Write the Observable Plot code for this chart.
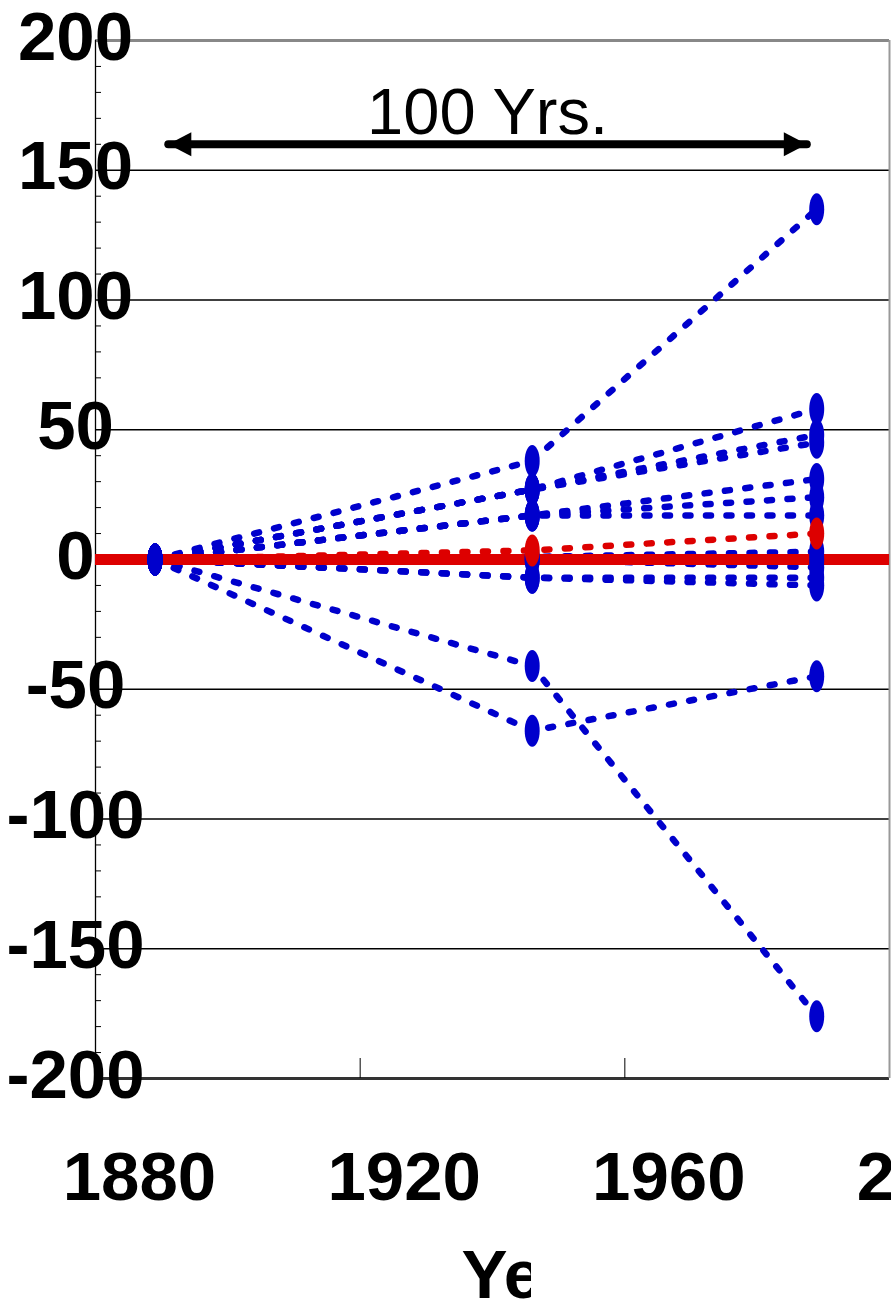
<!DOCTYPE html>
<html>
<head>
<meta charset="utf-8">
<script src="https://cdn.jsdelivr.net/npm/d3@7"></script>
<script src="https://cdn.jsdelivr.net/npm/@observablehq/plot@0.6"></script>
<style>
  html, body { margin: 0; padding: 0; background: white; overflow: hidden; }
  #chart { width: 891px; height: 1303px; overflow: hidden; }
</style>
</head>
<body>
<div id="chart"></div>
<script>
// ---- data ----
const years = [1889, 1946, 1989];
const blueSeries = [
  [0, 38, 135],
  [0, 27, 58],
  [0, 27, 48],
  [0, 27, 45],
  [0, 17, 31],
  [0, 17, 24],
  [0, 17, 17],
  [0, 1, 3],
  [0, 0, 0],
  [0, 0, -3],
  [0, -7, -7],
  [0, -7, -10],
  [0, -41, -176],
  [0, -66, -45]
];
const redSeries = [0, 3.5, 10];
const baseline = [0];
const gridValues = [-150, -100, -50, 50, 100, 150];
const yTicks = [-200, -150, -100, -50, 0, 50, 100, 150, 200];
const yMinorTicks = d3.range(-190, 200, 10).filter(v => v % 50 !== 0);
const xTicks = [1880, 1920, 1960, 2000];
const xInnerTicks = [1920, 1960];
const arrowYears = [1891, 1987.5];
const arrowLevel = 160;
const arrowText = "100 Yrs.";
const xLabel = "Year";

// ---- tables ----
const blueTable = blueSeries.flatMap((vals, s) => vals.map((v, i) => ({series: s, year: years[i], value: v, idx: i})));
const redTable = redSeries.map((v, i) => ({year: years[i], value: v, idx: i}));
const arrowTable = arrowYears.map(y => ({year: y, value: arrowLevel}));

const blue = "#0000CC", red = "#DD0000";

// ---- symbols ----
const ellipse = {draw(ctx) {
  const rx = 7.5, ry = 16, k = 0.5523;
  ctx.moveTo(rx, 0);
  ctx.bezierCurveTo(rx, k * ry, k * rx, ry, 0, ry);
  ctx.bezierCurveTo(-k * rx, ry, -rx, k * ry, -rx, 0);
  ctx.bezierCurveTo(-rx, -k * ry, -k * rx, -ry, 0, -ry);
  ctx.bezierCurveTo(k * rx, -ry, rx, -k * ry, rx, 0);
  ctx.closePath();
}};
const headLeft = {draw(ctx) { ctx.moveTo(0, 0); ctx.lineTo(23, -12); ctx.lineTo(23, 12); ctx.closePath(); }};
const headRight = {draw(ctx) { ctx.moveTo(0, 0); ctx.lineTo(-23, -12); ctx.lineTo(-23, 12); ctx.closePath(); }};

const fmt = d => String(d);
const font = "'Liberation Sans', Arial, Helvetica, sans-serif";

const plot = Plot.plot({
  width: 891,
  height: 1303,
  marginLeft: 95,
  marginRight: 2,
  marginTop: 40,
  marginBottom: 225,
  x: {domain: [1880, 2000], axis: null, label: null},
  y: {domain: [-200, 200], axis: null, label: null},
  style: {fontFamily: font, background: "white", color: "black"},
  marks: [
    Plot.ruleY(gridValues, {stroke: "black", strokeWidth: 1.3}),
    Plot.ruleY([200], {stroke: "#888", strokeWidth: 3}),
    Plot.ruleY([-200], {stroke: "#333", strokeWidth: 3}),
    Plot.ruleX([2000], {stroke: "#999", strokeWidth: 2}),
    Plot.ruleX([1880], {stroke: "black", strokeWidth: 1.3}),
    Plot.axisY({ticks: yMinorTicks, tickSize: -6, fill: "none", stroke: "black", label: null, tickFormat: fmt}),
    Plot.axisX({ticks: xInnerTicks, tickSize: -20, fill: "none", stroke: "black", label: null, tickFormat: fmt}),
    Plot.axisY({ticks: yTicks, tickSize: 0, tickPadding: 20, textAnchor: "middle", dy: -3,
      fontSize: 69, fontWeight: "bold", fill: "black", label: null, tickFormat: fmt}),
    Plot.axisX({ticks: xTicks, tickSize: 0, tickPadding: 72, dx: 44,
      fontSize: 69, fontWeight: "bold", fill: "black", label: null, tickFormat: fmt}),
    // series lines
    Plot.line(blueTable, {x: "year", y: "value", z: "series", stroke: blue, strokeWidth: 6.5,
      strokeDasharray: "5,15.5", strokeLinecap: "round", strokeLinejoin: "round"}),
    Plot.line(redTable, {x: "year", y: "value", stroke: red, strokeWidth: 6.5,
      strokeDasharray: "5,15.5", strokeLinecap: "round"}),
    Plot.ruleY(baseline, {stroke: red, strokeWidth: 11}),
    // markers
    Plot.dot(blueTable, {x: "year", y: "value", symbol: ellipse, r: 16, fill: blue, stroke: null}),
    Plot.dot(redTable.filter(d => d.idx > 0), {x: "year", y: "value", symbol: ellipse, r: 16, fill: red, stroke: null}),
    // 100 years arrow
    Plot.line(arrowTable, {x: "year", y: "value", stroke: "black", strokeWidth: 8}),
    Plot.dot(arrowTable.slice(0, 1), {x: "year", y: "value", symbol: headLeft, r: 12, fill: "black", stroke: null}),
    Plot.dot(arrowTable.slice(1), {x: "year", y: "value", symbol: headRight, r: 12, fill: "black", stroke: null}),
    Plot.text([arrowText], {x: () => (arrowYears[0] + arrowYears[1]) / 2, y: () => arrowLevel, text: d => d,
      fontSize: 65, fill: "black", textAnchor: "middle", dy: -31}),
    Plot.text([xLabel], {frameAnchor: "bottom", text: d => d, dx: 42, dy: 170, lineAnchor: "top",
      fontSize: 69, fontWeight: "bold", fill: "black"})
  ]
});

// clip the axis title the way the original picture cuts it
const svg = d3.select(plot);
svg.append("defs").append("clipPath").attr("id", "xlabclip")
  .append("rect").attr("x", 0).attr("y", 0).attr("width", 531).attr("height", 1303);
const labelNode = svg.selectAll("text").filter(function() { return this.textContent === xLabel; }).node();
if (labelNode) {
  const markG = labelNode.parentNode;
  const wrap = document.createElementNS("http://www.w3.org/2000/svg", "g");
  markG.parentNode.insertBefore(wrap, markG);
  wrap.appendChild(markG);
  wrap.setAttribute("clip-path", "url(#xlabclip)");
}

document.getElementById("chart").append(plot);
</script>
</body>
</html>
